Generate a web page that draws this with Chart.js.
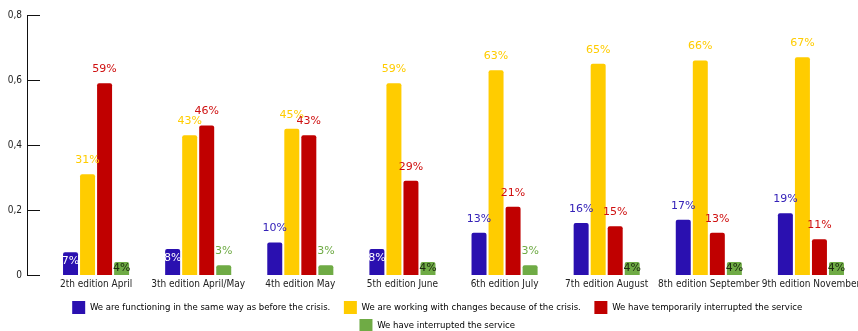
<!DOCTYPE html>
<html>
<head>
<meta charset="utf-8">
<script src="https://cdn.jsdelivr.net/npm/chart.js@4/dist/chart.umd.min.js"></script>
<style>
  html, body { margin: 0; padding: 0; background: #fff; overflow: hidden; }
  #wrap { width: 886px; height: 342px; }
</style>
</head>
<body>
<div id="wrap"><canvas id="myBarChart" width="886" height="342"></canvas></div>
<script>
const categories = [
  "2th edition April", "3th edition April/May", "4th edition May", "5th edition June",
  "6th edition July", "7th edition August", "8th edition September", "9th edition November"
];
const sameWay = [0.07, 0.08, 0.10, 0.08, 0.13, 0.16, 0.17, 0.19];
const withChanges = [0.31, 0.43, 0.45, 0.59, 0.63, 0.65, 0.66, 0.67];
const tempInterrupted = [0.59, 0.46, 0.43, 0.29, 0.21, 0.15, 0.13, 0.11];
const interrupted = [0.04, 0.03, 0.03, 0.04, 0.03, 0.04, 0.04, 0.04];
const yTicks = [0, 0.2, 0.4, 0.6, 0.8];

const seriesNames = [
  "We are functioning in the same way as before the crisis.",
  "We are working with changes because of the crisis.",
  "We have temporarily interrupted the service",
  "We have interrupted the service"
];
const barColors = ["#2a10b0", "#ffcc00", "#c00000", "#6fab45"];
const labelColors = ["#3522b8", "#ffcc00", "#cf1010", "#6fab45"];
const insideColors = ["#ffffff", "#ffcc00", "#ffffff", "#1c2a10"];

const FONT = "'Liberation Sans Narrow', 'DejaVu Sans Condensed', sans-serif";

// y axis line with short ticks pointing into the plot
const axisPlugin = {
  id: "axisLine",
  afterDraw(chart) {
    const y = chart.scales.y;
    const ctx = chart.ctx;
    const x0 = 27.5;
    ctx.save();
    ctx.strokeStyle = "#111";
    ctx.lineWidth = 1;
    ctx.beginPath();
    ctx.moveTo(x0, Math.round(y.getPixelForValue(0.8)));
    ctx.lineTo(x0, Math.round(y.getPixelForValue(0)) + 0.5);
    yTicks.forEach(t => {
      const py = Math.round(y.getPixelForValue(t)) + 0.5;
      ctx.moveTo(x0 - 0.5, py);
      ctx.lineTo(40, py);
    });
    ctx.stroke();
    ctx.restore();
  }
};

// nudge the legend a bit to the left of the plot centre
const legendShift = {
  id: "legendShift",
  afterLayout(chart) {
    const lg = chart.legend;
    lg.left -= 12;
    lg.right -= 12;
  }
};

// percentage labels: inside the bar when short, otherwise above it
const valueLabels = {
  id: "valueLabels",
  afterDatasetsDraw(chart) {
    const ctx = chart.ctx;
    ctx.save();
    ctx.font = "11px 'DejaVu Sans', sans-serif";
    ctx.textAlign = "center";
    ctx.textBaseline = "middle";
    chart.data.datasets.forEach((ds, i) => {
      const meta = chart.getDatasetMeta(i);
      meta.data.forEach((bar, j) => {
        const v = ds.data[j];
        const text = Math.round(v * 100) + "%";
        const inside = v >= 0.04 && v < 0.1;
        let ty;
        if (inside) {
          ty = Math.min(bar.y + 9, (bar.y + bar.base) / 2);
          ctx.fillStyle = insideColors[i];
        } else {
          ty = bar.y - 14;
          ctx.fillStyle = labelColors[i];
        }
        ctx.fillText(text, bar.x, ty);
      });
    });
    ctx.restore();
  }
};

const datasets = [sameWay, withChanges, tempInterrupted, interrupted].map((d, i) => ({
  label: seriesNames[i],
  data: d,
  backgroundColor: barColors[i],
  borderRadius: { topLeft: 2, topRight: 2 },
  borderSkipped: "bottom",
  categoryPercentage: 0.667,
  barPercentage: 0.88
}));

new Chart("myBarChart", {
  type: "bar",
  data: { labels: categories, datasets: datasets },
  plugins: [axisPlugin, legendShift, valueLabels],
  options: {
    responsive: false,
    animation: false,
    layout: { padding: { top: 15, right: 24, bottom: 0, left: 0 } },
    plugins: {
      tooltip: { enabled: false },
      legend: {
        position: "bottom",
        fullSize: false,
        labels: {
          boxWidth: 13,
          boxHeight: 13,
          padding: 5,
          color: "#222",
          font: { family: FONT, size: 9.5 },
          generateLabels(chart) {
            return chart.data.datasets.map((ds, i) => ({
              text: ds.label + "\u2003",
              fillStyle: ds.backgroundColor,
              strokeStyle: ds.backgroundColor,
              lineWidth: 0,
              datasetIndex: i
            }));
          }
        }
      }
    },
    scales: {
      x: {
        grid: { display: false, drawTicks: false },
        border: { display: false },
        afterFit(scale) { scale.height = 21; },
        ticks: { color: "#222", font: { family: FONT, size: 10 }, padding: 3, maxRotation: 0, autoSkip: false }
      },
      y: {
        min: 0,
        max: 0.8,
        grid: { display: false, drawTicks: true, tickLength: 20 },
        border: { display: false },
        afterFit(scale) { scale.width = 45; },
        afterBuildTicks(scale) { scale.ticks = yTicks.map(v => ({ value: v })); },
        ticks: {
          color: "#222",
          padding: 3,
          font: { family: FONT, size: 10 },
          callback: v => v === 0 ? "0" : v.toFixed(1).replace(".", ",")
        }
      }
    }
  }
});
</script>
</body>
</html>
